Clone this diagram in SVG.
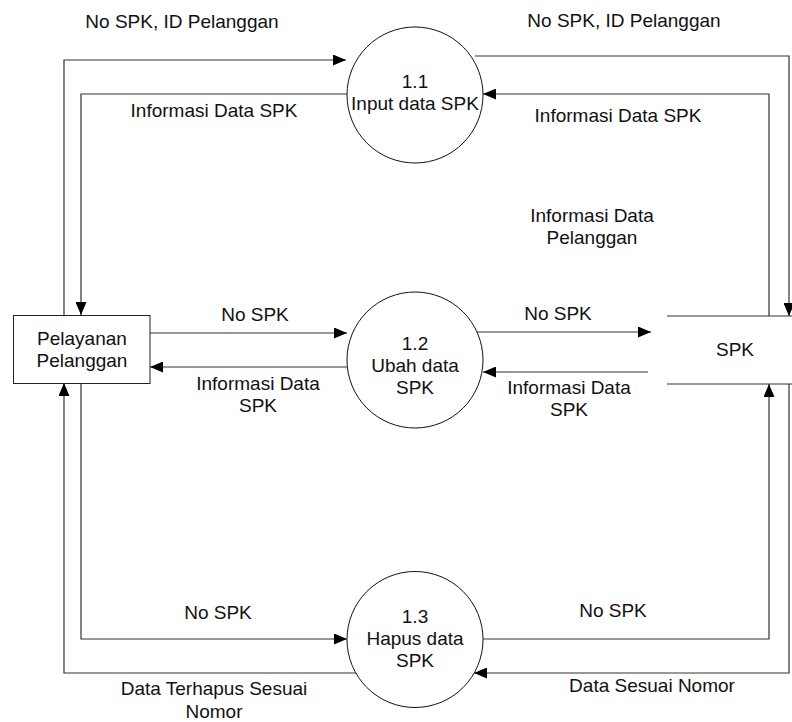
<svg xmlns="http://www.w3.org/2000/svg" width="792" height="722" viewBox="0 0 792 722">
<defs>
<style>
text{font-family:"Liberation Sans",Arial,sans-serif;font-size:19px;fill:#111;text-anchor:middle}
.proc{fill:#fff;stroke:#111;stroke-width:1}
.box{fill:#fff;stroke:#222;stroke-width:1}
.flow{fill:none;stroke:#333;stroke-width:1.2}
.store{fill:none;stroke:#333;stroke-width:1.2}
</style>
<marker id="ah" viewBox="0 0 13 11" markerWidth="13" markerHeight="11" refX="13" refY="5.5" orient="auto" markerUnits="userSpaceOnUse"><path d="M0,0 L13,5.5 L0,11 z" fill="#000"/></marker>
</defs>
<rect width="792" height="722" fill="#fff"/>

<g id="connectors">
<path class="flow" d="M64,315 V60 H346" marker-end="url(#ah)"/>
<path class="flow" d="M347,94 H81 V315" marker-end="url(#ah)"/>
<path class="flow" d="M475,56 H789 V316" marker-end="url(#ah)"/>
<path class="flow" d="M769,316 V94 H483" marker-end="url(#ah)"/>
<path class="flow" d="M150,333 H347" marker-end="url(#ah)"/>
<path class="flow" d="M347,367 H150" marker-end="url(#ah)"/>
<path class="flow" d="M477,332 H651" marker-end="url(#ah)"/>
<path class="flow" d="M648,372 H483" marker-end="url(#ah)"/>
<path class="flow" d="M356,673 H64 V383" marker-end="url(#ah)"/>
<path class="flow" d="M81,383 V639 H347" marker-end="url(#ah)"/>
<path class="flow" d="M483,639 H769 V384" marker-end="url(#ah)"/>
<path class="flow" d="M789,384 V673 H474" marker-end="url(#ah)"/>
<text x="182" y="28">No SPK, ID Pelanggan</text>
<text x="214" y="117">Informasi Data SPK</text>
<text x="624" y="27">No SPK, ID Pelanggan</text>
<text x="618" y="122">Informasi Data SPK</text>
<text x="592" y="222">Informasi Data</text>
<text x="592" y="244">Pelanggan</text>
<text x="255" y="321">No SPK</text>
<text x="258" y="390">Informasi Data</text>
<text x="258" y="412">SPK</text>
<text x="558" y="320">No SPK</text>
<text x="569" y="394">Informasi Data</text>
<text x="569" y="416">SPK</text>
<text x="218" y="619">No SPK</text>
<text x="214" y="695">Data Terhapus Sesuai</text>
<text x="214" y="718">Nomor</text>
<text x="613" y="617">No SPK</text>
<text x="652" y="692">Data Sesuai Nomor</text>
</g>

<g id="pelayanan-pelanggan">
<rect class="box" x="13.5" y="315.5" width="136.5" height="68"/>
<text x="82" y="345">Pelayanan</text>
<text x="82" y="367">Pelanggan</text>
</g>

<g id="proc-1-1">
<circle class="proc" cx="415" cy="95" r="68"/>
<text x="415" y="88">1.1</text>
<text x="415" y="110">Input data SPK</text>
</g>

<g id="proc-1-2">
<circle class="proc" cx="415" cy="360" r="68"/>
<text x="415" y="350">1.2</text>
<text x="415" y="372">Ubah data</text>
<text x="415" y="394">SPK</text>
</g>

<g id="proc-1-3">
<circle class="proc" cx="415" cy="639.5" r="68"/>
<text x="415" y="623">1.3</text>
<text x="415" y="645">Hapus data</text>
<text x="415" y="667">SPK</text>
</g>

<g id="store-spk">
<path class="store" d="M667,316 H792 M667,384 H792"/>
<text x="735" y="356">SPK</text>
</g>
</svg>
